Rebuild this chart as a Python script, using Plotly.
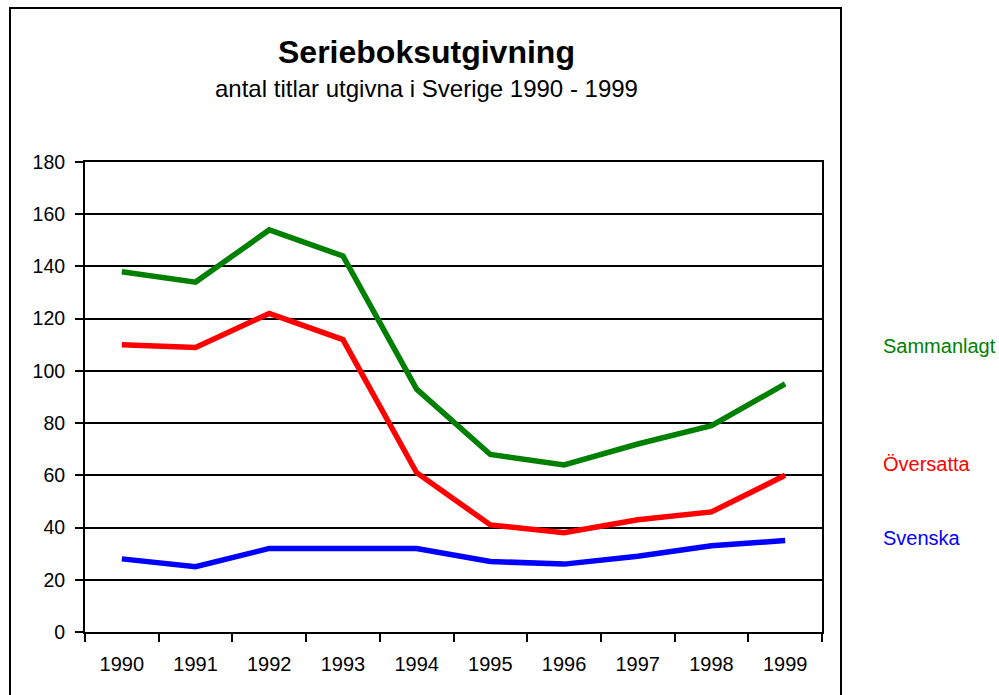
import plotly.graph_objects as go

years = ["1990", "1991", "1992", "1993", "1994", "1995", "1996", "1997", "1998", "1999"]
sammanlagt = [138, 134, 154, 144, 93, 68, 64, 72, 79, 95]
oversatta = [110, 109, 122, 112, 61, 41, 38, 43, 46, 60]
svenska = [28, 25, 32, 32, 32, 27, 26, 29, 33, 35]

series = [
    ("Sammanlagt", sammanlagt, "#008000"),
    ("Översatta", oversatta, "#FF0000"),
    ("Svenska", svenska, "#0000FF"),
]

W, H = 999, 695
L, R, T, B = 85, 822, 162, 632

fig = go.Figure()
for name, vals, col in series:
    fig.add_trace(go.Scatter(x=years, y=vals, mode="lines", name=name,
                             line=dict(color=col, width=5.5), showlegend=False))

def px(x):
    return (x - L) / (R - L)

def py(y):
    return (B - y) / (B - T)

font = "Liberation Sans, Arial, sans-serif"

fig.update_layout(
    width=W, height=H,
    margin=dict(l=L, r=W - R, t=T, b=H - B),
    paper_bgcolor="white", plot_bgcolor="white",
    font=dict(family=font, size=20, color="black"),
    xaxis=dict(type="category", tickson="boundaries", ticks="outside", ticklen=8,
               tickwidth=2, tickcolor="black", showline=True, linecolor="black",
               linewidth=2, mirror=True, showgrid=False, range=[-0.5, 9.5],
               tickfont=dict(size=20), ticklabelstandoff=13),
    yaxis=dict(range=[0, 180], dtick=20, ticks="outside", ticklen=8, tickwidth=2,
               tickcolor="black", showline=True, linecolor="black", linewidth=2,
               mirror=True, showgrid=True, gridcolor="black", gridwidth=1.5,
               zeroline=False, tickfont=dict(size=19.5), ticklabelstandoff=6),
)

fig.add_shape(type="rect", xref="paper", yref="paper",
              x0=px(10), x1=px(841), y0=py(705), y1=py(8),
              line=dict(color="black", width=2), layer="below")

fig.add_annotation(text="<b>Serieboksutgivning</b>", xref="paper", yref="paper",
                   x=px(426), y=py(52), showarrow=False, xanchor="center", yanchor="middle",
                   font=dict(size=32, family=font))
fig.add_annotation(text="antal titlar utgivna i Sverige 1990 - 1999", xref="paper", yref="paper",
                   x=px(426), y=py(89), showarrow=False, xanchor="center", yanchor="middle",
                   font=dict(size=24, family=font))

label_y = {"Sammanlagt": 346, "Översatta": 464, "Svenska": 538}
for name, vals, col in series:
    fig.add_annotation(text=name, xref="paper", yref="paper", x=px(881), y=py(label_y[name]),
                       showarrow=False, xanchor="left", yanchor="middle",
                       font=dict(size=20, color=col, family=font))

fig.write_html("out.html", config={"displayModeBar": False},
               post_script="document.body.style.margin='0';document.body.style.overflow='hidden';")
